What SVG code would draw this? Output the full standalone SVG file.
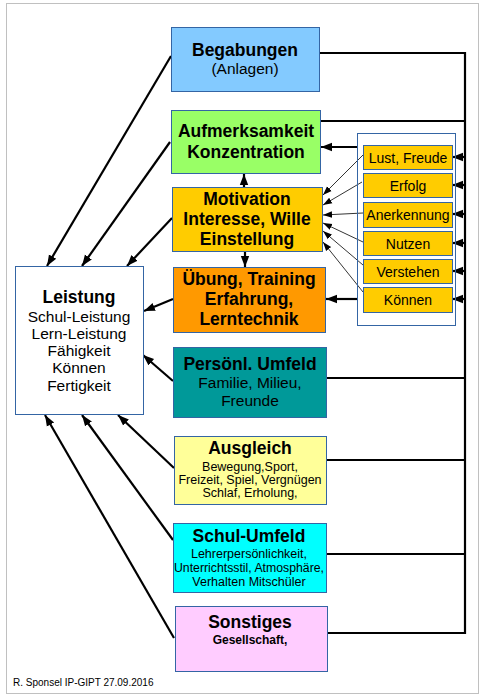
<svg xmlns="http://www.w3.org/2000/svg" width="485" height="700" viewBox="0 0 485 700">
<style>
text{font-family:"Liberation Sans",Arial,sans-serif;fill:#000;text-anchor:middle}
.b{font-weight:bold;font-size:17.5px}
.n{font-size:15.5px}
.s{font-size:12.5px}
.m{font-size:14px}
.box{stroke:#3465a4;stroke-width:1}
.c{stroke:#000;stroke-width:2.2;fill:none}
.a{stroke:#000;stroke-width:2.2;fill:none;marker-end:url(#ah)}
.t{stroke:#000;stroke-width:0.8;fill:none;marker-end:url(#th)}
</style>
<defs>
<marker id="ah" markerUnits="userSpaceOnUse" markerWidth="12" markerHeight="10" viewBox="0 0 12 10" refX="11" refY="5" orient="auto">
<path d="M0,0.8 L11,5 L0,9.2 Z" fill="#000"/>
</marker>
<marker id="th" markerUnits="userSpaceOnUse" markerWidth="10" markerHeight="8" viewBox="0 0 10 8" refX="9" refY="4" orient="auto">
<path d="M0,0.8 L9,4 L0,7.2 Z" fill="#000"/>
</marker>
</defs>
<rect x="0" y="0" width="485" height="700" fill="#fff"/>
<rect x="6.5" y="3.5" width="472" height="690" fill="none" stroke="#c0c0c0" stroke-width="1"/>

<g id="connectors">
<polyline class="c" points="319,53 465,53 465,634"/>
<line class="c" x1="320" y1="121" x2="465" y2="121"/>
<line class="c" x1="326" y1="378" x2="465" y2="378"/>
<line class="c" x1="326" y1="460" x2="465" y2="460"/>
<line class="c" x1="326" y1="554" x2="465" y2="554"/>
<line class="c" x1="327" y1="633" x2="465" y2="633"/>
<line class="a" x1="465" y1="157" x2="452" y2="157"/>
<line class="a" x1="465" y1="185" x2="452" y2="185"/>
<line class="a" x1="465" y1="214" x2="452" y2="214"/>
<line class="a" x1="465" y1="243" x2="452" y2="243"/>
<line class="a" x1="465" y1="271" x2="452" y2="271"/>
<line class="a" x1="465" y1="299" x2="452" y2="299"/>
<line class="a" x1="357" y1="147" x2="321" y2="147"/>
<line class="a" x1="357" y1="299" x2="326" y2="299"/>
<line class="t" x1="363" y1="155" x2="323" y2="195"/>
<line class="t" x1="362" y1="182" x2="323" y2="205"/>
<line class="t" x1="363" y1="213" x2="323" y2="215"/>
<line class="t" x1="363" y1="242" x2="323" y2="223"/>
<line class="t" x1="363" y1="265" x2="323" y2="231"/>
<line class="t" x1="363" y1="292" x2="323" y2="242"/>
<line class="a" x1="244" y1="187" x2="244" y2="174"/>
<line class="a" x1="245" y1="251" x2="245" y2="267"/>
<line class="a" x1="171" y1="56" x2="47" y2="266"/>
<line class="a" x1="170" y1="142" x2="82" y2="266"/>
<line class="a" x1="172" y1="218" x2="127" y2="266"/>
<line class="a" x1="173" y1="299" x2="144" y2="311"/>
<line class="a" x1="173" y1="381" x2="143" y2="355"/>
<line class="a" x1="174" y1="468" x2="118" y2="415"/>
<line class="a" x1="173" y1="540" x2="82" y2="415"/>
<line class="a" x1="174" y1="638" x2="45" y2="415"/>
</g>

<g id="begabungen">
<rect class="box" x="171.5" y="27.5" width="148" height="64" fill="#83caff"/>
<text class="b" x="245" y="56">Begabungen</text>
<text class="n" x="245" y="74">(Anlagen)</text>
</g>

<g id="aufmerksamkeit">
<rect class="box" x="171.5" y="110.5" width="149" height="63" fill="#99ff66"/>
<text class="b" x="246" y="137">Aufmerksamkeit</text>
<text class="b" x="246" y="158">Konzentration</text>
</g>

<g id="motivation">
<rect class="box" x="172.5" y="187.5" width="150" height="64" fill="#ffcc00"/>
<text class="b" x="247" y="205">Motivation</text>
<text class="b" x="247" y="225">Interesse, Wille</text>
<text class="b" x="247" y="245">Einstellung</text>
</g>

<g id="uebung">
<rect class="box" x="173.5" y="267.5" width="152" height="65" fill="#ff9900"/>
<text class="b" x="249" y="285">Übung, Training</text>
<text class="b" x="249" y="305">Erfahrung,</text>
<text class="b" x="249" y="325">Lerntechnik</text>
</g>

<g id="umfeld">
<rect class="box" x="173.5" y="347.5" width="153" height="70" fill="#009999"/>
<text class="b" x="250" y="370">Persönl. Umfeld</text>
<text class="n" x="250" y="388">Familie, Milieu,</text>
<text class="n" x="250" y="406">Freunde</text>
</g>

<g id="ausgleich">
<rect class="box" x="174.5" y="436.5" width="152" height="68" fill="#ffff99"/>
<text class="b" x="250" y="454">Ausgleich</text>
<text class="s" x="250" y="471">Bewegung,Sport,</text>
<text class="s" x="250" y="484">Freizeit, Spiel, Vergnügen</text>
<text class="s" x="250" y="497">Schlaf, Erholung,</text>
</g>

<g id="schulumfeld">
<rect class="box" x="173.5" y="523.5" width="153" height="69" fill="#00ffff"/>
<text class="b" x="249" y="542">Schul-Umfeld</text>
<text class="s" x="249" y="558">Lehrerpersönlichkeit,</text>
<text class="s" x="249" y="572" textLength="150" lengthAdjust="spacingAndGlyphs">Unterrichtsstil, Atmosphäre,</text>
<text class="s" x="249" y="586">Verhalten Mitschüler</text>
</g>

<g id="sonstiges">
<rect class="box" x="175.5" y="606.5" width="152" height="65" fill="#ffccff"/>
<text class="b" x="250" y="628">Sonstiges</text>
<text x="250" y="644" font-size="12px" font-weight="bold">Gesellschaft,</text>
</g>

<g id="leistung">
<rect class="box" x="15.5" y="266.5" width="128" height="148" fill="#fff"/>
<text class="b" x="79" y="303">Leistung</text>
<text class="n" x="79" y="322">Schul-Leistung</text>
<text class="n" x="79" y="339">Lern-Leistung</text>
<text class="n" x="79" y="356">Fähigkeit</text>
<text class="n" x="79" y="373">Können</text>
<text class="n" x="79" y="391">Fertigkeit</text>
</g>

<g id="container">
<rect x="357.5" y="133.5" width="98" height="192" fill="none" stroke="#3465a4" stroke-width="1"/>
</g>
<g id="lust">
<rect class="box" x="363.5" y="145.5" width="89" height="24" fill="#ffcc00"/>
<text class="m" x="408" y="163">Lust, Freude</text>
</g>
<g id="erfolg">
<rect class="box" x="363.5" y="173.5" width="89" height="24" fill="#ffcc00"/>
<text class="m" x="408" y="191">Erfolg</text>
</g>
<g id="anerkennung">
<rect class="box" x="363.5" y="202.5" width="89" height="25" fill="#ffcc00"/>
<text class="m" x="408" y="220">Anerkennung</text>
</g>
<g id="nutzen">
<rect class="box" x="363.5" y="231.5" width="89" height="24" fill="#ffcc00"/>
<text class="m" x="408" y="249">Nutzen</text>
</g>
<g id="verstehen">
<rect class="box" x="363.5" y="259.5" width="89" height="24" fill="#ffcc00"/>
<text class="m" x="408" y="277">Verstehen</text>
</g>
<g id="koennen">
<rect class="box" x="363.5" y="287.5" width="89" height="25" fill="#ffcc00"/>
<text class="m" x="408" y="305">Können</text>
</g>

<text x="13" y="686" style="font-size:10px;text-anchor:start">R. Sponsel IP-GIPT 27.09.2016</text>
</svg>
